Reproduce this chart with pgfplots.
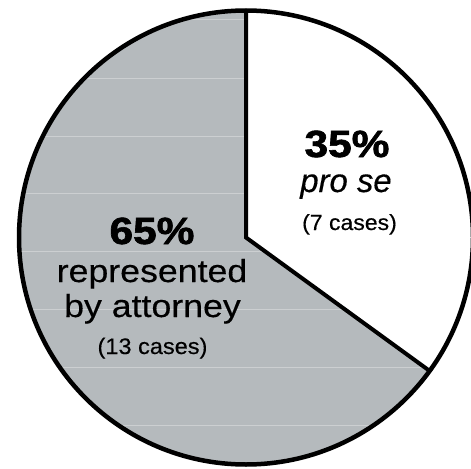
\documentclass[border=0pt]{standalone}
\usepackage{pgfplots}
\pgfplotsset{compat=1.18}
\usepackage{fontspec}
\setmainfont{Liberation Sans}
\newfontfamily\heavyfont[FakeBold=1.6]{Liberation Sans Bold}
\newfontfamily\regfont[FakeBold=0.35]{Liberation Sans}
\newfontfamily\itfont[FakeBold=0.35]{Liberation Sans Italic}
\definecolor{piegray}{RGB}{181,186,189}
\definecolor{streak}{RGB}{204,207,209}
% data: share in percent and number of cases
\def\pctProSe{35}
\def\pctAttorney{65}
\def\casesProSe{7}
\def\casesAttorney{13}
\pgfmathsetmacro{\angEnd}{90-3.6*\pctProSe}
\begin{document}
\begin{tikzpicture}
\path[use as bounding box] (0,0) rectangle (471bp,469bp);
\begin{axis}[
  at={(0,0)}, anchor=south west,
  scale only axis, width=471bp, height=469bp,
  xmin=0, xmax=471, ymin=0, ymax=469, y dir=reverse,
  hide axis, clip=true]
  % full disc in grey (represented by attorney)
  \fill[piegray] (axis cs:246,237.5) circle[radius=227bp];
  % faint scan streaks inside the disc
  \begin{scope}
  \clip (axis cs:246,237.5) circle[radius=227bp];
  \pgfplotsinvokeforeach{19,78,136,193,251,309,367,425}{
    \draw[streak, line width=0.8bp] (axis cs:0,#1) -- (axis cs:471,#1);
  }
  \end{scope}
  % pro se wedge in white
  \fill[white] (axis cs:246,237.5) -- ++(90:227bp) arc[start angle=90, end angle=\angEnd, radius=227bp] -- cycle;
  % outlines
  \draw[black, line width=4.5bp] (axis cs:246,237.5) circle[radius=227bp];
  \draw[black, line width=4bp, line join=miter] (axis cs:246,237.5) ++(90:227bp) -- (axis cs:246,237.5) -- ++(\angEnd:227bp);
  % labels pro se
  \node[anchor=base, inner sep=0, xscale=1.12] at (axis cs:347,157) {\fontsize{38}{40}\selectfont\heavyfont \pctProSe\%};
  \node[anchor=base, inner sep=0] at (axis cs:346,192) {\fontsize{33}{36}\selectfont\itfont pro se};
  \node[anchor=base, inner sep=0, xscale=1.05] at (axis cs:349.5,230) {\fontsize{22}{24}\selectfont\regfont (\casesProSe\ cases)};
  % labels attorney
  \node[anchor=base, inner sep=0, xscale=1.12] at (axis cs:152,244) {\fontsize{38}{40}\selectfont\heavyfont \pctAttorney\%};
  \node[anchor=base, inner sep=0, xscale=1.12] at (axis cs:152,282) {\fontsize{32}{34}\selectfont\regfont represented};
  \node[anchor=base, inner sep=0, xscale=1.12] at (axis cs:152.5,317) {\fontsize{32}{34}\selectfont\regfont by attorney};
  \node[anchor=base, inner sep=0, xscale=1.05] at (axis cs:152.5,354) {\fontsize{22.5}{24}\selectfont\regfont (\casesAttorney\ cases)};
\end{axis}
\end{tikzpicture}
\end{document}
